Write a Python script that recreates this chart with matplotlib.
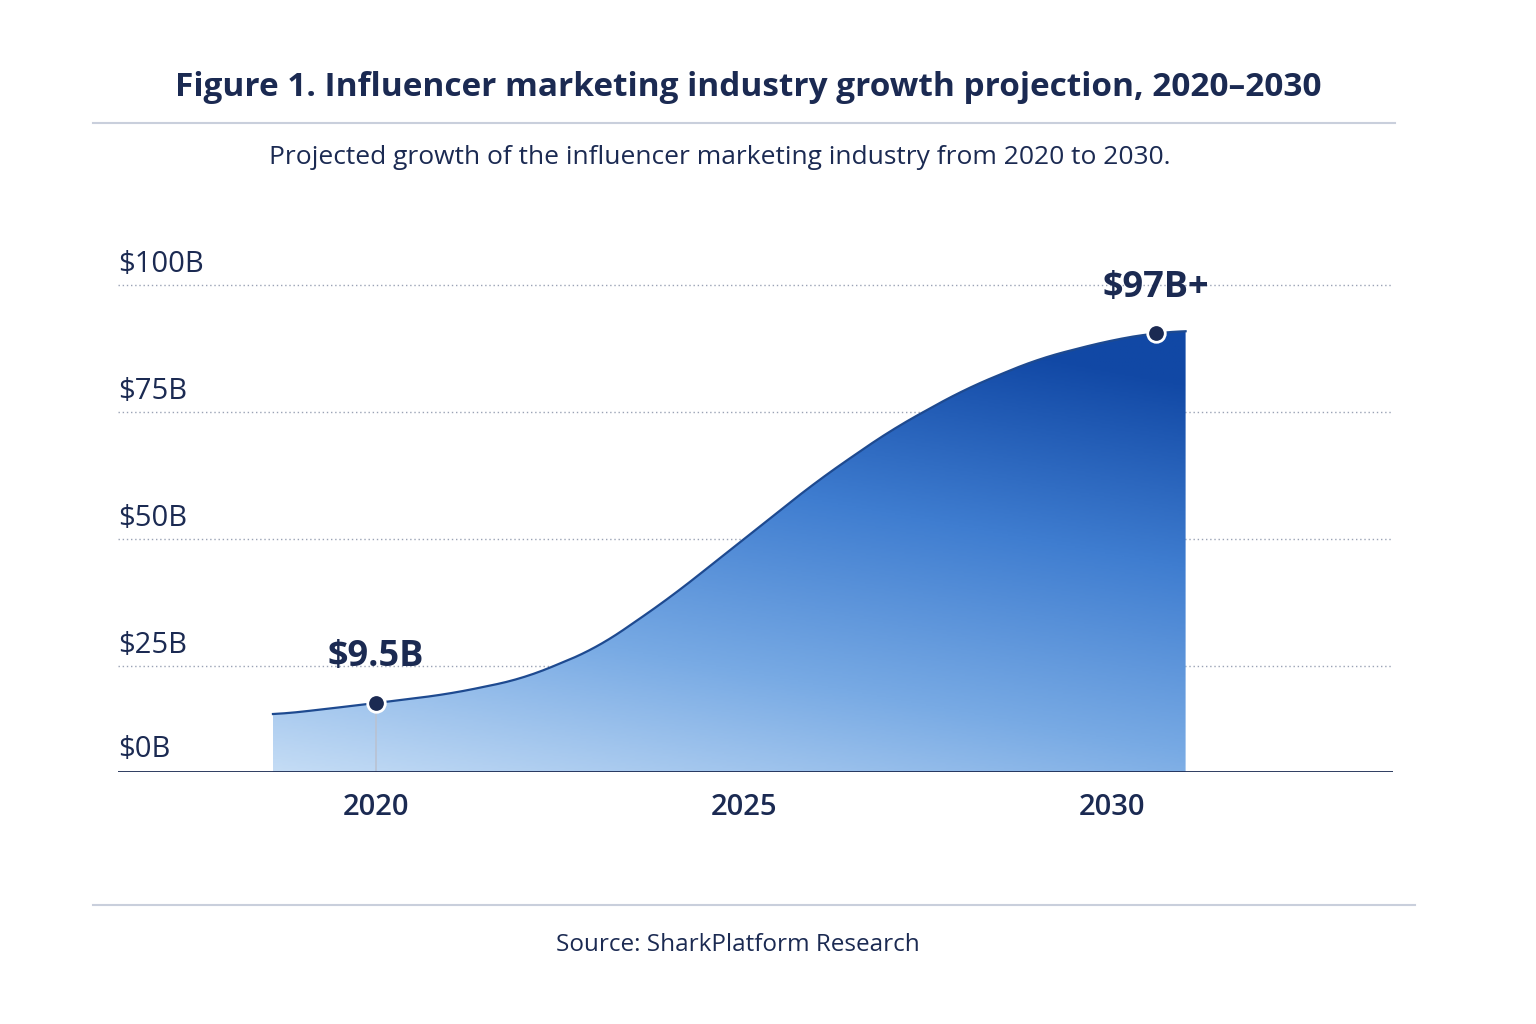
import numpy as np
import matplotlib.pyplot as plt
from matplotlib.patches import Polygon
from matplotlib.lines import Line2D
from matplotlib.colors import LinearSegmentedColormap

years = [2018.6, 2019, 2020, 2021, 2022, 2023, 2024, 2025, 2026, 2027, 2028, 2029, 2030, 2030.6, 2031]
values = [15.4, 16.0, 17.7, 19.5, 22.5, 28.5, 38.5, 50.0, 61.5, 71.5, 79.5, 85.5, 89.2, 90.6, 91.0]
ytick_vals = [25, 50, 75, 100]
ytick_labels = ["$0B", "$25B", "$50B", "$75B", "$100B"]
xtick_vals = [2020, 2025, 2030]
callouts = [(2020, 17.7, "$9.5B"), (2030.6, 90.6, "$97B+")]
title = "Figure 1. Influencer marketing industry growth projection, 2020–2030"
subtitle = "Projected growth of the influencer marketing industry from 2020 to 2030."
source = "Source: SharkPlatform Research"

navy = "#1b2a52"
plt.rcParams['font.family'] = ['Open Sans', 'DejaVu Sans']
fig = plt.figure(figsize=(15.36, 10.24), dpi=100)
W, H = 1536, 1024
ax = fig.add_axes([118 / W, (H - 772) / H, (1393 - 118) / W, 522 / H])
x0 = 2020 - (376 - 118) / 73.6
x1 = 2020 + (1393 - 376) / 73.6
base = 4.13
ax.set_xlim(x0, x1)
ax.set_ylim(base, 106.9)
for s in ax.spines.values():
    s.set_visible(False)
ax.set_xticks([]); ax.set_yticks([])

xs = np.linspace(years[0], years[-1], 400)
ys = np.interp(xs, years, values)
k = np.ones(25) / 25
ys_s = np.convolve(np.pad(ys, 12, mode='edge'), k, mode='valid')

cmap = LinearSegmentedColormap.from_list("g", ["#c4dcf5", "#78aae4", "#3f7dd0", "#1148a5"])
gx = np.linspace(0, 1, 300)
gy = np.linspace(0, 1, 300)
GX, GY = np.meshgrid(gx, gy)
t = np.clip(0.8 * GY + 0.3 * GX, 0, 1)
img = cmap(t)
im = ax.imshow(img, extent=[years[0], years[-1], base, 92], origin='lower', aspect='auto', zorder=1)
poly = Polygon(np.column_stack([np.r_[xs, xs[-1], xs[0]], np.r_[ys_s, base, base]]), closed=True,
               facecolor='none', edgecolor='none', transform=ax.transData)
ax.add_patch(poly)
im.set_clip_path(poly)
ax.plot(xs, ys_s, color="#1e4a90", lw=1.6, zorder=3)

for v in ytick_vals:
    ax.axhline(v, color="#9aa3b5", lw=1, ls=(0, (1, 2)), zorder=0)
ax.axhline(base, color=navy, lw=2, zorder=4)
for lab, v in zip(ytick_labels, [4.5] + ytick_vals):
    ax.text(x0, v + 4, lab, ha='left', va='center', fontsize=21, color=navy, zorder=5)
for xv in xtick_vals:
    ax.text(xv, base - 7, str(xv), ha='center', va='center', fontsize=21, color=navy,
            fontweight='semibold', clip_on=False)

for xv, yv, lab in callouts:
    yy = np.interp(xv, xs, ys_s)
    ax.scatter([xv], [yy], s=160, color=navy, edgecolor='white', linewidth=2, zorder=6)
    ax.text(xv, yy + 9, lab, ha='center', va='center', fontsize=26, color=navy, fontweight='bold', zorder=6)
yy = np.interp(2020, xs, ys_s)
ax.plot([2020, 2020], [base, yy], color="#b9c2d2", lw=1.2, zorder=2)

fig.text(0.5 - 20 / W, 1 - 88 / H, title, ha='center', va='center', fontsize=24, color=navy, fontweight='bold')
fig.text(0.5 - 48 / W, 1 - 158 / H, subtitle, ha='center', va='center', fontsize=19, color=navy)
fig.text(0.5 - 30 / W, 1 - 945 / H, source, ha='center', va='center', fontsize=17.5, color=navy)
for yp, xa, xb in [(123, 93, 1395), (905, 93, 1415)]:
    fig.add_artist(Line2D([xa / W, xb / W], [1 - yp / H] * 2, color="#c9cfdc", lw=1.5))

fig.savefig("out.png", dpi=100, facecolor='white')
